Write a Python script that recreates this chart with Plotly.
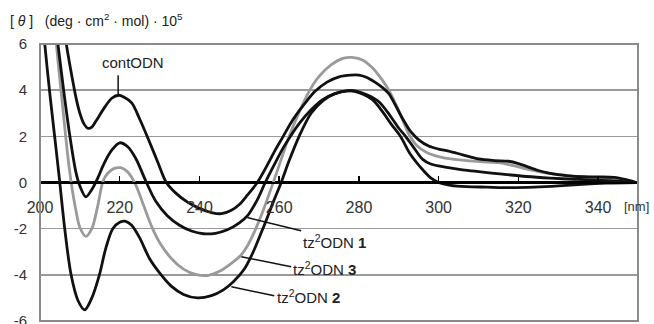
import plotly.graph_objects as go

# ---- data (wavelength nm, [theta] x 1e5) ----
cont_x = [203, 205, 206.6, 208, 209, 210, 211, 212, 213, 214, 216, 218, 219.8, 221, 223, 225, 227, 229.5, 231.7,
          234, 237, 240, 243, 245.5, 248, 250, 252, 254.5, 257, 259, 261, 263, 265, 267, 269, 272, 275, 278, 280,
          282, 284, 286, 287.5, 289, 291, 293, 295, 297.5, 300, 302.5, 306, 310, 314, 317.5, 320, 322, 325, 328,
          332, 336, 340, 344, 347, 349.5]
cont_y = [11, 8, 6, 4.6, 3.7, 3.0, 2.55, 2.35, 2.4, 2.65, 3.2, 3.65, 3.78, 3.7, 3.45, 2.75, 1.95, 0.9, 0,
          -0.45, -0.85, -1.12, -1.3, -1.35, -1.2, -0.95, -0.55, 0, 0.75, 1.4, 2.0, 2.6, 3.1, 3.55, 3.95, 4.35, 4.58, 4.65, 4.65,
          4.55, 4.35, 4.1, 3.85, 3.4, 2.75, 2.2, 1.85, 1.58, 1.45, 1.36, 1.2, 1.02, 0.95, 0.92, 0.82, 0.7, 0.52, 0.4,
          0.3, 0.25, 0.24, 0.22, 0.12, 0]

tz1_x = [200, 202, 204.5, 206, 207.5, 209, 210, 211.5, 213, 214.5, 216, 218, 220, 222, 224, 226.7, 229, 232, 235,
         238, 241, 244, 247, 250, 252, 254.5, 256.5, 259, 261, 263, 265, 268, 271, 274, 277, 279, 282, 285, 288,
         290, 291.7, 294, 296, 298, 302, 306, 310, 316, 322, 328, 334, 340, 345, 349.5]
tz1_y = [14, 10, 6, 3.9, 2.0, 0.45, -0.15, -0.62, -0.3, 0.2, 0.8, 1.4, 1.72, 1.55, 1.05, 0, -0.8, -1.45, -1.85,
         -2.1, -2.22, -2.2, -2.05, -1.75, -1.45, -0.75, 0, 0.85, 1.5, 2.05, 2.55, 3.15, 3.6, 3.85, 3.97, 3.97, 3.8, 3.5, 2.85,
         2.35, 2.0, 1.45, 1.0, 0.8, 0.66, 0.55, 0.47, 0.36, 0.26, 0.19, 0.14, 0.1, 0.06, 0]

tz3_x = [200, 202, 204.1, 205.5, 207, 208, 209, 210, 211.5, 213, 214.5, 215.8, 217, 218.5, 220.2, 222, 224, 226,
         228, 230, 233, 236, 239, 242, 245, 248, 250.4, 252, 254, 256, 258.5, 260.5, 262.5, 265, 267.5, 270, 273,
         276, 278.3, 281, 283.5, 286, 287.5, 289.5, 291, 292.5, 294.5, 297, 300, 303, 307, 311, 315, 319, 323,
         328, 334, 340, 345, 349.5]
tz3_y = [16, 10.5, 6, 3.6, 1.1, -0.2, -1.2, -1.95, -2.33, -2.0, -1.0, 0.05, 0.4, 0.6, 0.64, 0.45, -0.1, -1.0,
         -1.9, -2.6, -3.3, -3.75, -3.98, -4.03, -3.85, -3.5, -3.15, -2.75, -2.05, -1.2, 0, 1.0, 2.0, 3.05, 3.95, 4.6, 5.1,
         5.38, 5.42, 5.3, 4.95, 4.4, 4.0, 3.3, 2.7, 2.1, 1.6, 1.3, 1.12, 1.02, 0.95, 0.9, 0.86, 0.72, 0.55,
         0.38, 0.28, 0.2, 0.1, 0]

tz2_x = [200, 201.2, 202.5, 204, 204.9, 206.2, 207.8, 209.5, 211.2, 213, 214.9, 216.5, 218.25, 220, 221.5, 223,
         225, 227.5, 230.4, 233, 236, 239.5, 243, 246, 248.5, 251.25, 253.5, 256.25, 258.5, 260.5, 262.5, 265, 268,
         271, 274, 277, 279, 283.3, 286, 288, 290.4, 293, 296, 298, 300, 303, 307, 312, 318, 324, 330, 336, 342, 349.5]
tz2_y = [8.5, 6, 3.8, 1.5, 0.1, -2.0, -4.0, -5.1, -5.52, -5.0, -4.0, -2.85, -2.0, -1.72, -1.68, -1.85,
         -2.4, -3.3, -4.0, -4.5, -4.85, -5.0, -4.9, -4.65, -4.3, -3.75, -3.0, -1.85, -0.85, 0, 0.95, 2.0, 3.0,
         3.55, 3.85, 3.97, 3.95, 3.6, 3.05, 2.55, 2.0, 1.2, 0.55, 0.2, 0, -0.12, -0.18, -0.2, -0.22, -0.2, -0.15, -0.08, -0.03, 0]

x_ticks = [200, 220, 240, 260, 280, 300, 320, 340]
x_tick_labels = ["200", "220", "240", "260", "280", "300", "320", "340"]
y_ticks = [-6, -4, -2, 0, 2, 4, 6]
y_tick_labels = ["-6", "-4", "-2", "0", "2", "4", "6"]

FONT = "Liberation Sans, Arial, sans-serif"

fig = go.Figure()
series = [
    (tz3_x, tz3_y, "#9a9a9a", "tz2ODN 3"),
    (tz2_x, tz2_y, "#111111", "tz2ODN 2"),
    (tz1_x, tz1_y, "#111111", "tz2ODN 1"),
    (cont_x, cont_y, "#111111", "contODN"),
]
for xs, ys, col, name in series:
    fig.add_trace(go.Scatter(x=xs, y=ys, mode="lines", name=name,
                             line=dict(color=col, width=2.8, shape="spline", smoothing=0.9),
                             showlegend=False, hoverinfo="skip"))

fig.update_layout(
    template="none",
    width=654, height=324,
    margin=dict(l=40, r=16, t=44, b=3, autoexpand=False),
    paper_bgcolor="white", plot_bgcolor="white",
    font=dict(family=FONT, color="#222222"),
    xaxis=dict(range=[200, 350], anchor="free", position=0.5, showline=True, linecolor="black",
               linewidth=2.5, ticks="inside", ticklen=6, tickwidth=1.5, tickcolor="black",
               tickvals=x_ticks, ticktext=x_tick_labels, tickfont=dict(size=16, color="#333333"),
               ticklabelstandoff=10, showgrid=False, zeroline=False, automargin=False),
    yaxis=dict(range=[-6, 6], tickvals=y_ticks, ticktext=y_tick_labels, showgrid=True,
               gridcolor="#999999", gridwidth=1.5, zeroline=True, zerolinecolor="black",
               zerolinewidth=2.5, showline=False, ticks="", ticklabelstandoff=12,
               ticklabeloverflow="allow",
               tickfont=dict(size=15, color="#333333"), automargin=False),
)

shapes = [
    dict(type="rect", xref="paper", yref="paper", x0=0, y0=0, x1=1, y1=1,
         line=dict(color="#8a8a8a", width=2)),
    dict(type="line", xref="x", yref="y", x0=219.6, y0=3.78, x1=219.6, y1=4.65,
         line=dict(color="#111111", width=1.5)),
    dict(type="line", xref="x", yref="y", x0=252, y0=-1.52, x1=265.5, y1=-2.09,
         line=dict(color="#111111", width=1.5)),
    dict(type="line", xref="x", yref="y", x0=250.5, y0=-3.22, x1=263, y1=-3.65,
         line=dict(color="#111111", width=1.5)),
    dict(type="line", xref="x", yref="y", x0=248, y0=-4.52, x1=258.75, y1=-4.91,
         line=dict(color="#111111", width=1.5)),
]
fig.update_layout(shapes=shapes)

ann_font = dict(family=FONT, size=15, color="#222222")
annotations = [
    dict(x=223.3, y=5.2, xref="x", yref="y", text="contODN", showarrow=False, font=ann_font,
         xanchor="center", yanchor="middle"),
    dict(x=265.5, y=-2.57, xref="x", yref="y", text="tz<sup>2</sup>ODN <b>1</b>", showarrow=False,
         font=ann_font, xanchor="left", yanchor="middle"),
    dict(x=263, y=-3.74, xref="x", yref="y", text="tz<sup>2</sup>ODN <b>3</b>", showarrow=False,
         font=ann_font, xanchor="left", yanchor="middle"),
    dict(x=259, y=-4.96, xref="x", yref="y", text="tz<sup>2</sup>ODN <b>2</b>", showarrow=False,
         font=ann_font, xanchor="left", yanchor="middle"),
    dict(x=(651 - 40) / 598, y=(321 - 206) / 277, xref="paper", yref="paper", text="[nm]",
         showarrow=False, font=dict(family=FONT, size=13, color="#333333"), xanchor="right", yanchor="middle"),
    dict(x=(8 - 40) / 598, y=(321 - 20) / 277, xref="paper", yref="paper",
         text="[ <i>θ</i> ]   (deg · cm<sup>2</sup> · mol) · 10<sup>5</sup>",
         showarrow=False, font=dict(family=FONT, size=14, color="#222222"), xanchor="left", yanchor="middle"),
]
fig.update_layout(annotations=annotations)

fig.write_html("out.html", config={"displayModeBar": False, "staticPlot": True},
               post_script="document.body.style.margin='0';document.body.style.overflow='hidden';")
